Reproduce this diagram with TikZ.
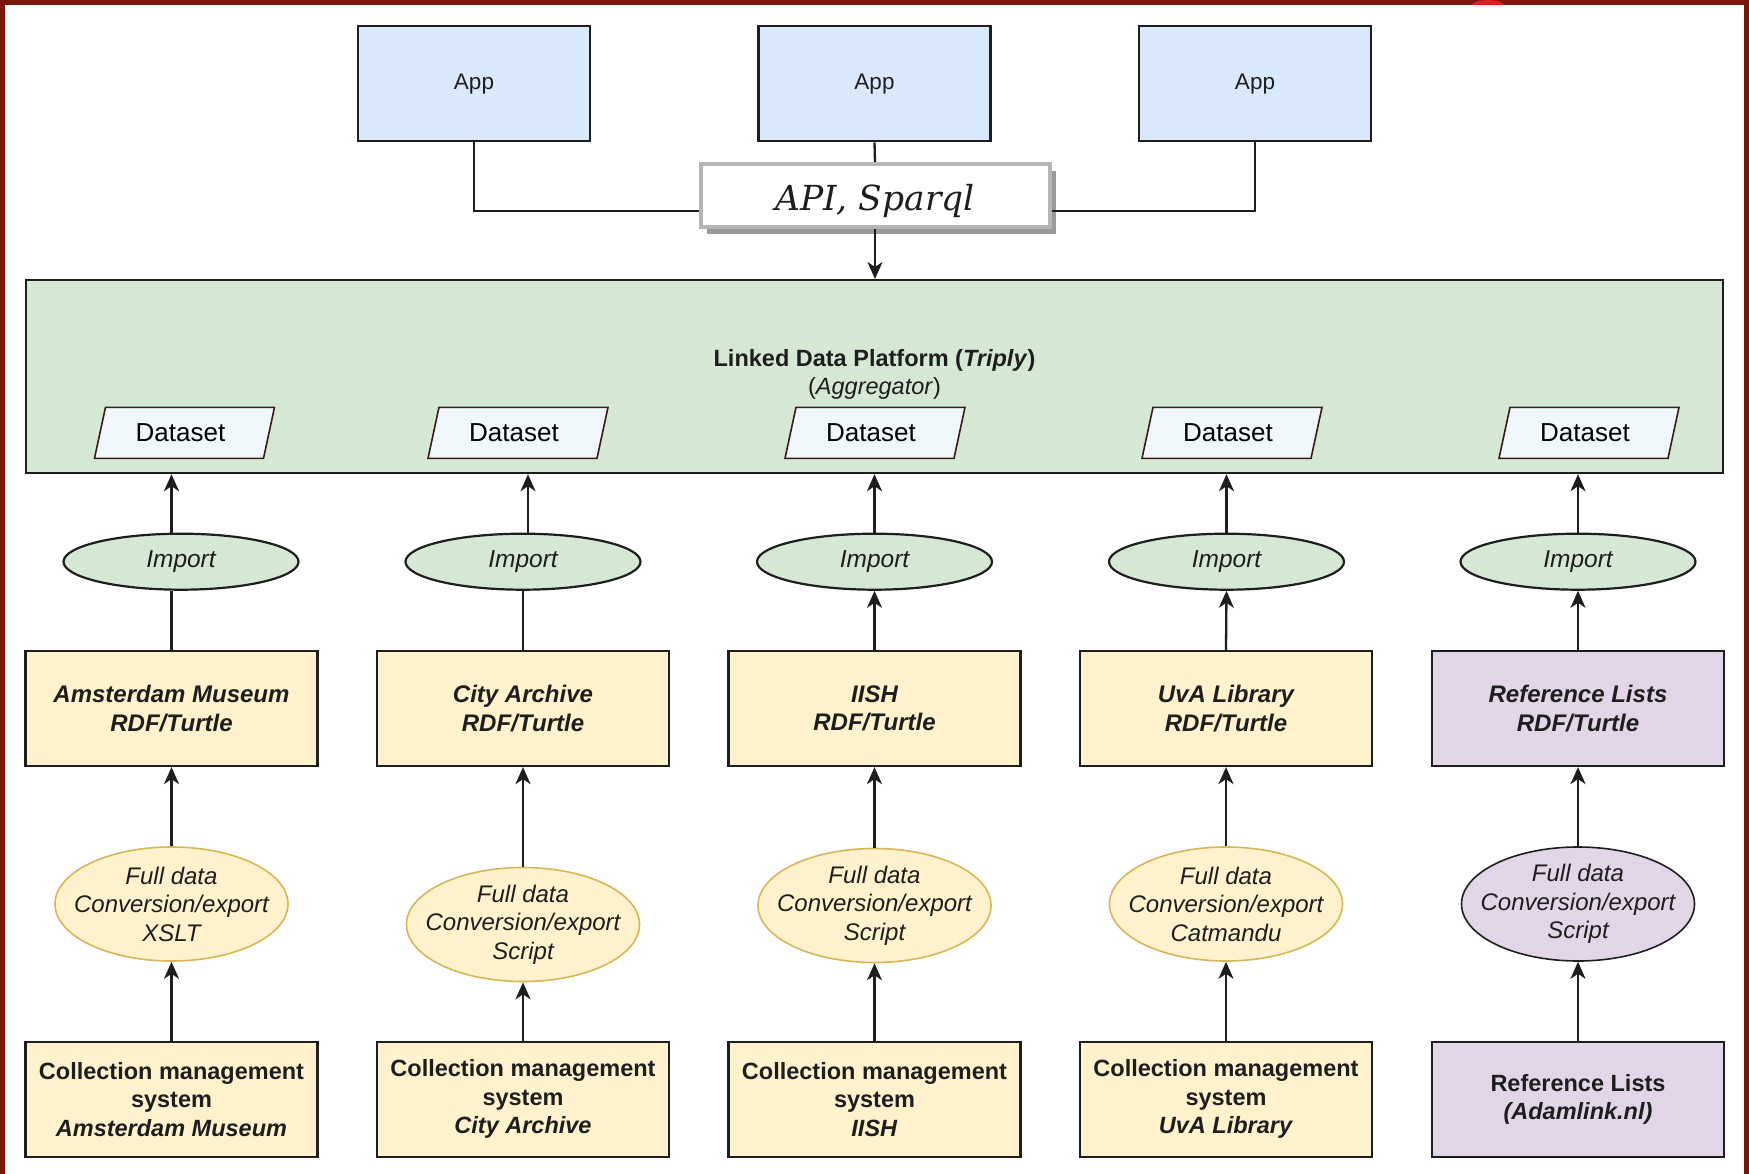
\documentclass[tikz,border=0pt]{standalone}
\usepackage{fontspec}
\setmainfont{Liberation Sans}
\newfontfamily\apifont{DejaVu Serif}
\usetikzlibrary{arrows.meta,shapes.geometric,shadows}

\definecolor{framered}{RGB}{122,22,12}
\definecolor{blobred}{HTML}{D82020}
\definecolor{appblue}{HTML}{DAE8FC}
\definecolor{platgreen}{HTML}{D5E8D4}
\definecolor{dsfill}{HTML}{EFF7FA}
\definecolor{dsline}{HTML}{3A1A1A}
\definecolor{rdfyellow}{HTML}{FFF2CC}
\definecolor{convline}{HTML}{D6B656}
\definecolor{refpurple}{HTML}{E1D5E7}
\definecolor{linecol}{HTML}{1E1E1E}
\definecolor{apigray}{HTML}{B5B5B5}
\definecolor{shadowgray}{HTML}{9A9A9A}

\begin{document}
\begin{tikzpicture}[x=1pt,y=-1pt,
  every node/.style={inner sep=0pt, align=center, text=linecol},
  appbox/.style={draw=linecol, line width=2.2pt, fill=appblue, minimum width=232pt, minimum height=115pt, font=\fontsize{22.5}{27}\selectfont},
  apibox/.style={draw=apigray, line width=4pt, fill=white, minimum width=349pt, minimum height=63pt,
     drop shadow={shadow xshift=6pt, shadow yshift=-7pt, fill=shadowgray, opacity=1},
     font=\apifont\itshape\fontsize{34.5}{40}\selectfont},
  platbox/.style={draw=linecol, line width=2.2pt, fill=platgreen, minimum width=1697pt, minimum height=193pt},
  plattitle/.style={font=\bfseries\fontsize{23.5}{28}\selectfont},
  platsub/.style={font=\fontsize{23.5}{28}\selectfont},
  dsshape/.style={draw=dsline, line width=1.6pt, fill=dsfill},
  dstext/.style={font=\fontsize{26}{30}\selectfont, text=black},
  impell/.style={ellipse, draw=linecol, line width=2.2pt, fill=platgreen, minimum width=235pt, minimum height=56pt, font=\itshape\fontsize{24.5}{29}\selectfont},
  rdfbox/.style={draw=linecol, line width=2.2pt, fill=rdfyellow, minimum width=292pt, minimum height=115pt, font=\bfseries\itshape\fontsize{24}{28.5}\selectfont},
  convell/.style={ellipse, draw=convline, line width=1.6pt, fill=rdfyellow, minimum width=233pt, minimum height=114pt,
     inner xsep=-25pt, inner ysep=-10pt, font=\itshape\fontsize{24}{28.5}\selectfont},
  botbox/.style={draw=linecol, line width=2.2pt, fill=rdfyellow, minimum width=292pt, minimum height=115pt, font=\bfseries\fontsize{23.5}{28.5}\selectfont},
  purple/.style={fill=refpurple, draw=linecol},
  ln/.style={line width=2.3pt, draw=linecol},
  arr/.style={line width=2.3pt, draw=linecol, -{Stealth[length=17pt,width=15pt,inset=5pt]}},
]
% background and frame
\fill[framered] (0,0) rectangle (1749,1174);
\fill[white] (4.7,4.7) rectangle (1744,1174);
\begin{scope}
  \clip (1400,0) rectangle (1560,4.7);
  \fill[blobred] (1488,6) ellipse (17 and 6);
\end{scope}
\useasboundingbox (0,0) rectangle (1749,1174);

% apps
\node[appbox] (app1) at (474,83.7) {App};
\node[appbox] (app2) at (874.5,83.7) {App};
\node[appbox] (app3) at (1255,83.7) {App};

% API
\node[apibox] (api) at (875,195.5) {\raisebox{-5pt}[\height][\depth]{API, Sparql}};

% platform
\node[platbox] (plat) at (874.5,376.6) {};
\node[plattitle] (ptitle) at (874.5,360) {Linked Data Platform (\textit{Triply})};
\node[platsub] (psub) at (874.5,388) {(\textit{Aggregator})};

% datasets
\foreach \i/\cx in {1/184.5, 2/518, 3/875, 4/1232, 5/1589}{
  \draw[dsshape] (\cx-90,458.3) -- (\cx+79,458.3) -- (\cx+90,407.3) -- (\cx-79,407.3) -- cycle;
  \node[dstext] (ds\i) at (\cx-4,432.8) {Dataset};
}

% import ellipses
\node[impell] (imp1) at (181,561.7) {Import};
\node[impell] (imp2) at (523,561.7) {Import};
\node[impell] (imp3) at (874.5,561.7) {Import};
\node[impell] (imp4) at (1226.5,561.7) {Import};
\node[impell] (imp5) at (1578,561.7) {Import};

% RDF boxes
\node[rdfbox] (rdf1) at (171.5,708.5) {Amsterdam Museum\\RDF/Turtle};
\node[rdfbox] (rdf2) at (523,708.5) {City Archive\\RDF/Turtle};
\node[rdfbox] (rdf3) at (874.5,708.5) {IISH\\RDF/Turtle};
\node[rdfbox] (rdf4) at (1226,708.5) {UvA Library\\RDF/Turtle};
\node[rdfbox,purple] (rdf5) at (1578,708.5) {Reference Lists\\RDF/Turtle};

% conversion ellipses
\node[convell] (conv1) at (171.5,904) {Full data\\Conversion/export\\XSLT};
\node[convell] (conv2) at (523,924.5) {Full data\\Conversion/export\\Script};
\node[convell] (conv3) at (874.5,905.5) {Full data\\Conversion/export\\Script};
\node[convell] (conv4) at (1226,904) {Full data\\Conversion/export\\Catmandu};
\node[convell,purple] (conv5) at (1578,904) {Full data\\Conversion/export\\Script};

% source systems
\node[botbox] (src1) at (171.5,1099.2) {Collection management\\system\\\textit{Amsterdam Museum}};
\node[botbox] (src2) at (523,1099.2) {Collection management\\system\\\textit{City Archive}};
\node[botbox] (src3) at (874.5,1099.2) {Collection management\\system\\\textit{IISH}};
\node[botbox] (src4) at (1226,1099.2) {Collection management\\system\\\textit{UvA Library}};
\node[botbox,purple] (src5) at (1578,1099.2) {Reference Lists\\\textit{(Adamlink.nl)}};

% top connectors
\coordinate (jl) at (474,210.7);
\coordinate (jr) at (1255,210.7);
\draw[ln] (app1.south) -- (jl) -- (jl -| api.west);
\draw[ln] (app3.south) -- (jr) -- (jr -| api.east);
\draw[ln] (app2.south) -- (api.north);
\draw[arr] (api.south) -- (api.south |- plat.north);

% import -> platform
\draw[arr] (imp1.north -| rdf1.north) -- (rdf1.north |- plat.south);
\draw[arr] ([xshift=5pt]imp2.north) -- ([xshift=5pt]imp2.north |- plat.south);
\draw[arr] (imp3.north) -- (imp3.north |- plat.south);
\draw[arr] (imp4.north) -- (imp4.north |- plat.south);
\draw[arr] (imp5.north) -- (imp5.north |- plat.south);

% rdf -> import
\draw[ln] (rdf1.north) -- (rdf1.north |- imp1.south);
\draw[ln] (rdf2.north) -- (imp2.south);
\draw[arr] (rdf3.north) -- (imp3.south);
\draw[arr] (rdf4.north) -- (imp4.south);
\draw[arr] (rdf5.north) -- (imp5.south);

% conversion -> rdf, source -> conversion
\foreach \i in {1,...,5}{
  \draw[arr] (conv\i.north) -- (rdf\i.south);
  \draw[arr] (src\i.north) -- (conv\i.south);
}
\end{tikzpicture}
\end{document}
